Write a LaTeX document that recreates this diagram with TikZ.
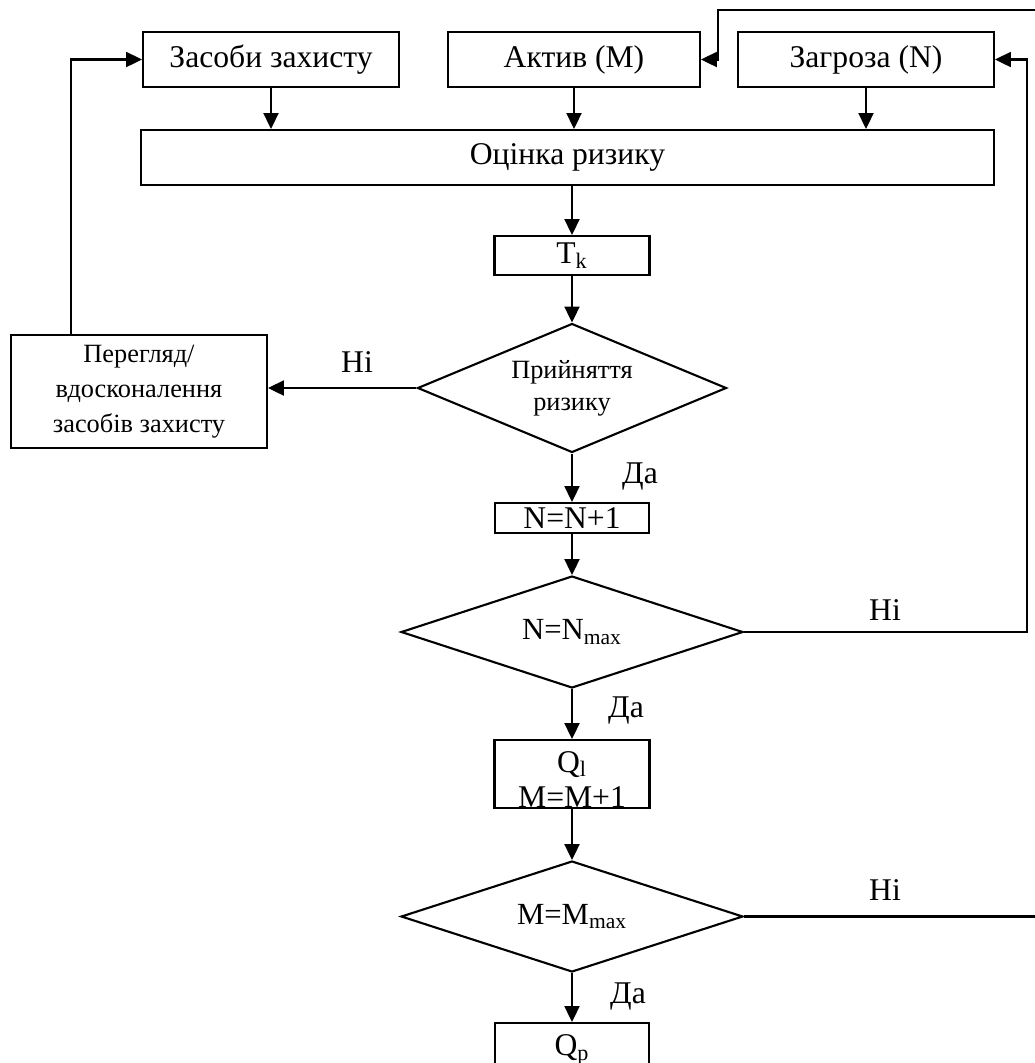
\documentclass[tikz,border=0pt]{standalone}
\usepackage{fontspec}
\setmainfont{Liberation Serif}
\usetikzlibrary{shapes.geometric,arrows.meta}
\begin{document}
\begin{tikzpicture}[x=0.02cm,y=-0.02cm,
  box/.style={draw,line width=1.2pt,inner sep=0pt,align=center,font=\fontsize{18}{20}\selectfont},
  smallbox/.style={box,font=\fontsize{15}{20}\selectfont},
  dia/.style={draw,diamond,line width=1.2pt,inner sep=0pt,align=center,font=\fontsize{17.5}{20}\selectfont},
  arr/.style={line width=1.2pt,-{Triangle[length=9pt,width=8.5pt]}},
  lbl/.style={font=\fontsize{18}{20}\selectfont,inner sep=0pt}]
\useasboundingbox (0,0) rectangle (1035,1063);
\clip (0,0) rectangle (1035,1063);
% boxes
\node[box,minimum width=5.12cm,minimum height=1.1cm] (zas) at (271,59.5) {Засоби захисту};
\node[box,minimum width=5.04cm,minimum height=1.1cm] (akt) at (574,59.5) {Актив (М)};
\node[box,minimum width=5.12cm,minimum height=1.1cm] (zag) at (866,59.5) {Загроза (N)};
\node[box,minimum width=17.06cm,minimum height=1.1cm] (ots) at (567.5,157.5) {Оцінка ризику};
\node[box,minimum width=3.1cm,minimum height=0.78cm] (tk) at (572,255.5) {T\textsubscript{k}};
\node[dia,aspect=2.4,minimum width=6.18cm,minimum height=2.58cm,font=\fontsize{15}{18}\selectfont] (d1) at (572,388) {Прийняття\\ризику};
\node[smallbox,minimum width=5.12cm,minimum height=2.26cm] (rev) at (139,391.5) {Перегляд/\\вдосконалення\\засобів захисту};
\node[box,minimum width=3.08cm,minimum height=0.6cm] (nn) at (572,518) {N=N+1};
\node[dia,aspect=3,minimum width=6.84cm,minimum height=2.24cm] (d2) at (572,632) {N=N\textsubscript{max}};
\node[box,minimum width=3.1cm,minimum height=1.36cm] (ql) at (572,774) {};
\node[lbl,anchor=base] (qlt) at (572,772) {Q\textsubscript{l}};
\node[lbl,anchor=base] (qlm) at (572,807) {M=M+1};
\node[dia,aspect=3,minimum width=6.84cm,minimum height=2.22cm] (d3) at (572,916.5) {M=M\textsubscript{max}};
\node[box,minimum width=3.08cm,minimum height=1.04cm] (qp) at (572,1049) {};
\node[lbl] (qpt) at (572,1050) {Q\textsubscript{p}};
% coordinates
\coordinate (r1) at (1027,632);
\coordinate (r2) at (1045,916.5);
\coordinate (t1) at (1045,10);
\coordinate (t2) at (718,10);
% connectors
\draw[arr] (zas.south) -- (zas.south |- ots.north);
\draw[arr] (akt.south) -- (akt.south |- ots.north);
\draw[arr] (zag.south) -- (zag.south |- ots.north);
\draw[arr] (tk.north |- ots.south) -- (tk.north);
\draw[arr] (tk.south) -- (d1.north);
\draw[arr] (d1.west) -- (d1.west -| rev.east);
\draw[arr] ([xshift=-1.36cm]rev.north) |- (zas.west);
\draw[arr] (d1.south) -- (nn.north);
\draw[arr] (nn.south) -- (d2.north);
\draw[arr] (d2.east) -- (r1) |- (zag.east);
\draw[arr] (d2.south) -- (ql.north);
\draw[arr] (ql.south) -- (d3.north);
\draw[arr] (d3.east) -- (r2) -- (t1) -- (t2) |- (akt.east);
\draw[arr] (d3.south) -- (qp.north);
% labels
\node[lbl] (n1) at (357,362) {Ні};
\node[lbl] (n2) at (885,610) {Ні};
\node[lbl] (n3) at (885,890) {Ні};
\node[lbl] (y1) at (640,477) {Да};
\node[lbl] (y2) at (626,711) {Да};
\node[lbl] (y3) at (628,996) {Да};
\end{tikzpicture}
\end{document}
